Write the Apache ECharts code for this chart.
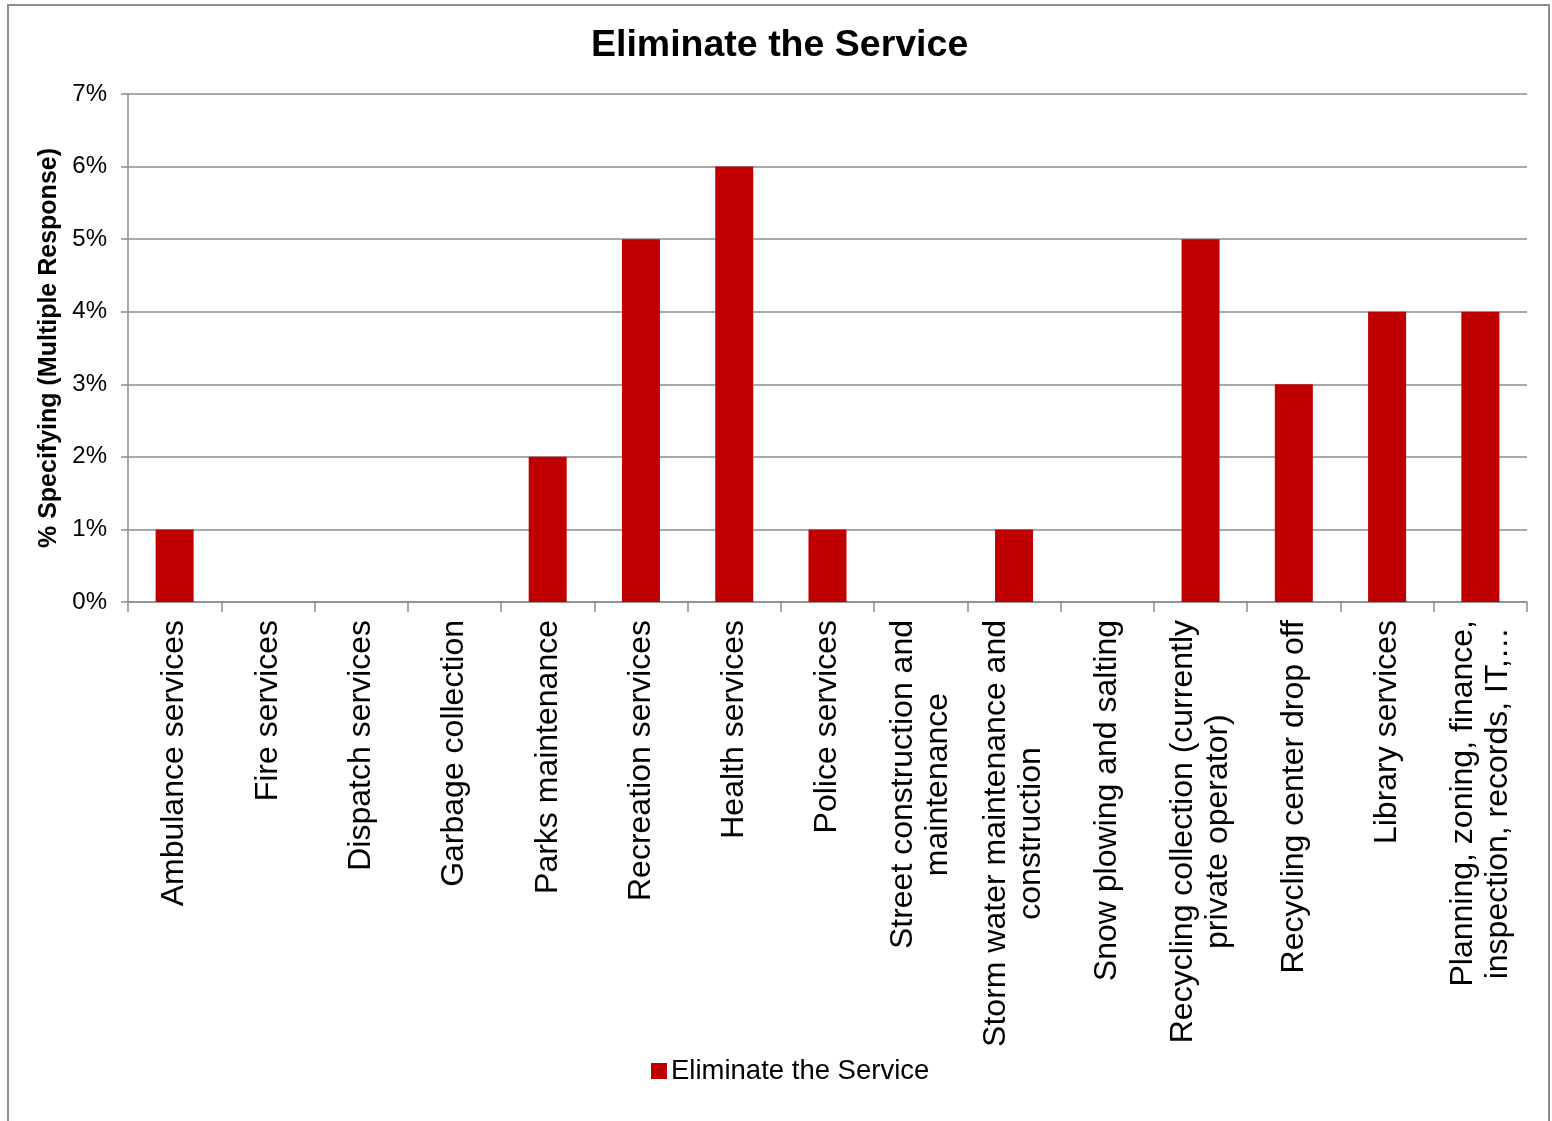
<!DOCTYPE html>
<html>
<head>
<meta charset="utf-8">
<script src="https://cdn.jsdelivr.net/npm/echarts@6/dist/echarts.min.js"></script>
<style>
  html, body { margin: 0; padding: 0; background: #fff; }
  #chart { width: 1552px; height: 1121px; }
</style>
</head>
<body>
<div id="chart"></div>
<script>
// Services, with manual line breaks for the long names
const categories = [
  'Ambulance services',
  'Fire services',
  'Dispatch services',
  'Garbage collection',
  'Parks maintenance',
  'Recreation services',
  'Health services',
  'Police services',
  'Street construction and\nmaintenance',
  'Storm water maintenance and\nconstruction',
  'Snow plowing and salting',
  'Recycling collection (currently\nprivate operator)',
  'Recycling center drop off',
  'Library services',
  'Planning, zoning, finance,\ninspection, records, IT,…'
];

// Share of respondents (%) choosing to eliminate each service
const eliminateValues = [1, 0, 0, 0, 2, 5, 6, 1, 0, 1, 0, 5, 3, 4, 4];

const seriesName = 'Eliminate the Service';
const chartTitle = 'Eliminate the Service';
const yAxisTitle = '% Specifying (Multiple Response)';

const FONT = '"Liberation Sans", Arial, sans-serif';
const GRID_GRAY = '#8c8c8c';

const chart = echarts.init(document.getElementById('chart'), null, { renderer: 'canvas' });

chart.setOption({
  backgroundColor: '#ffffff',
  animation: false,
  textStyle: { fontFamily: FONT, color: '#000' },
  title: {
    text: chartTitle,
    left: 586,
    top: 22,
    textStyle: { fontFamily: FONT, fontSize: 37.5, fontWeight: 'bold', color: '#000' }
  },
  graphic: [{
    type: 'rect',
    silent: true,
    shape: { x: 8, y: 5, width: 1541, height: 1140 },
    style: { fill: 'none', stroke: '#8e8e8e', lineWidth: 2 }
  }],
  legend: {
    bottom: 31,
    left: 646,
    icon: 'rect',
    itemWidth: 16,
    itemHeight: 16,
    itemGap: 6,
    textStyle: { fontFamily: FONT, fontSize: 27.5, color: '#000', padding: [0, 0, 0, -1] },
    data: [seriesName]
  },
  grid: {
    left: 128,
    right: 25,
    top: 94,
    bottom: 519,
    containLabel: false
  },
  xAxis: {
    type: 'category',
    data: categories,
    boundaryGap: true,
    axisLine: { lineStyle: { color: GRID_GRAY, width: 1.5 } },
    axisTick: { show: true, length: 10, lineStyle: { color: GRID_GRAY, width: 1.5 } },
    axisLabel: {
      rotate: 90,
      margin: 18,
      interval: 0,
      color: '#000',
      formatter: function (v) {
        return v.split('\n').map(function (s) { return '{c|' + s + '}'; }).join('\n');
      },
      rich: {
        c: { fontFamily: FONT, fontSize: 32, lineHeight: 35, align: 'center', color: '#000' }
      }
    }
  },
  yAxis: {
    type: 'value',
    min: 0,
    max: 7,
    interval: 1,
    name: yAxisTitle,
    nameLocation: 'middle',
    nameRotate: 90,
    nameGap: 64,
    nameTextStyle: { fontFamily: FONT, fontSize: 25, fontWeight: 'bold', color: '#000' },
    axisLine: { show: true, lineStyle: { color: GRID_GRAY, width: 1.5 } },
    axisTick: { show: true, length: 7, lineStyle: { color: GRID_GRAY, width: 1.5 } },
    axisLabel: {
      formatter: '{value}%',
      margin: 21,
      fontFamily: FONT,
      fontSize: 24,
      color: '#000'
    },
    splitLine: { show: true, lineStyle: { color: GRID_GRAY, width: 1.5 } }
  },
  series: [{
    name: seriesName,
    type: 'bar',
    data: eliminateValues,
    barWidth: 38,
    itemStyle: { color: '#c00000' }
  }]
});
</script>
</body>
</html>
